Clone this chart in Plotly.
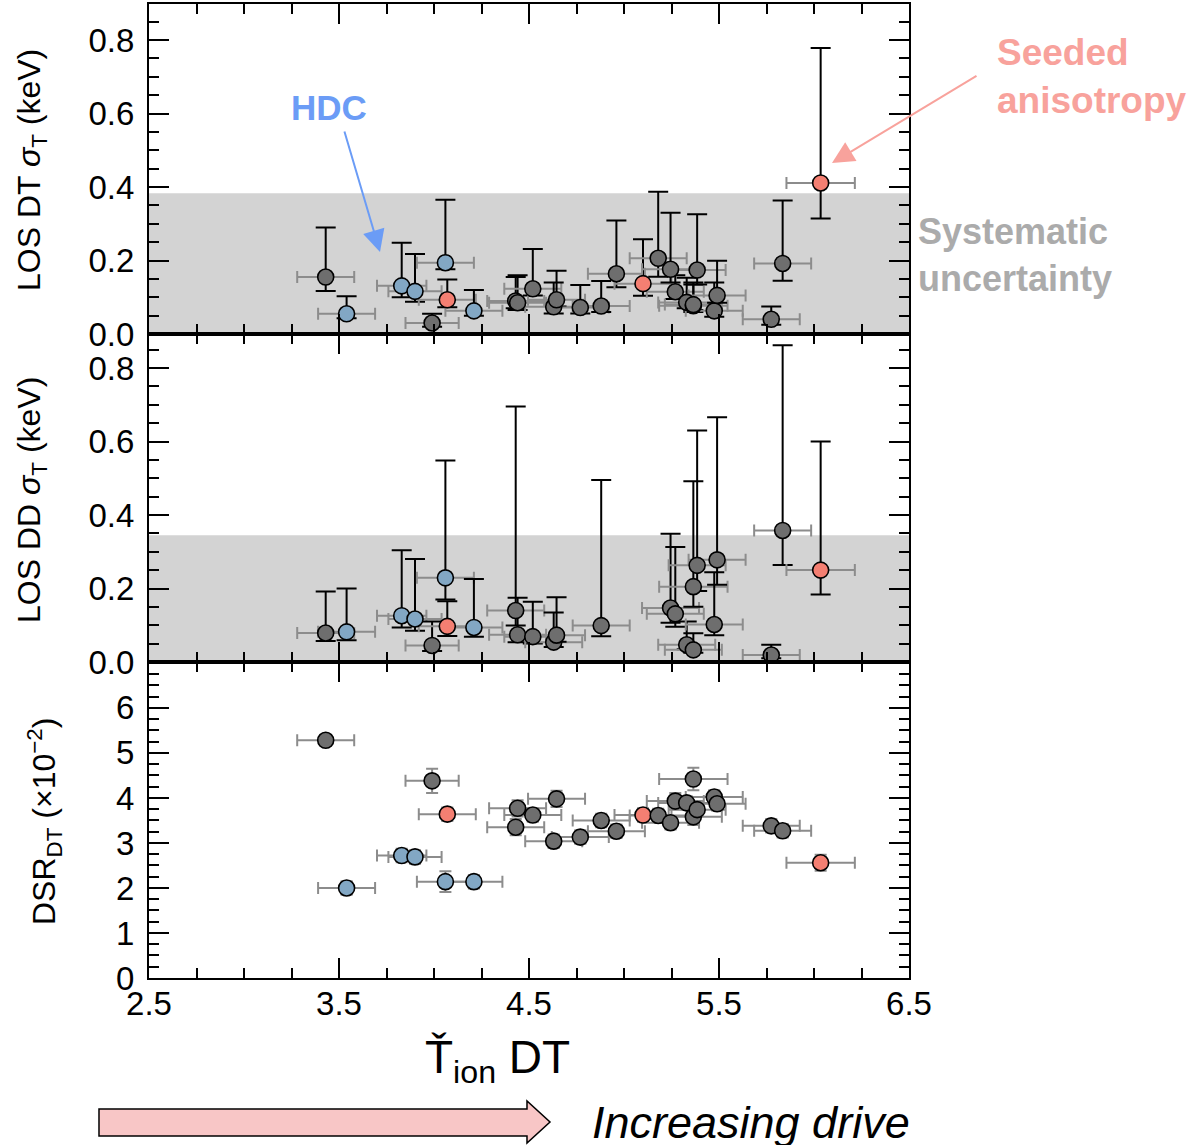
import plotly.graph_objects as go

# ---- measurements per shot ------------------------------------------------
t_ion = [3.43, 3.54, 3.83, 3.90, 3.99, 4.06, 4.07, 4.21, 4.43, 4.44,
         4.52, 4.63, 4.645, 4.77, 4.88, 4.96, 5.10, 5.18, 5.245, 5.27,
         5.33, 5.365, 5.365, 5.385, 5.475, 5.49, 5.775, 5.835, 6.035]
t_ion_err = [0.15, 0.15, 0.13, 0.14, 0.14, 0.15, 0.15, 0.15, 0.15, 0.15,
             0.15, 0.15, 0.15, 0.15, 0.15, 0.15, 0.15, 0.15, 0.15, 0.15,
             0.15, 0.18, 0.15, 0.15, 0.15, 0.15, 0.15, 0.15, 0.18]
shot_class = ["other", "hdc", "hdc", "hdc", "other", "hdc", "seeded", "hdc", "other", "other",
              "other", "other", "other", "other", "other", "other", "seeded", "other", "other", "other",
              "other", "other", "other", "other", "other", "other", "other", "other", "seeded"]

dt_sigma = [0.155, 0.055, 0.131, 0.116, 0.030, 0.194, 0.093, 0.063, 0.090, 0.085,
            0.123, 0.074, 0.093, 0.072, 0.076, 0.164, 0.137, 0.206, 0.176, 0.115,
            0.086, 0.077, 0.080, 0.174, 0.063, 0.105, 0.040, 0.192, 0.411]
dt_sigma_lo = [0.117, 0.043, 0.100, 0.088, 0.020, 0.176, 0.073, 0.050, 0.070, 0.065,
               0.105, 0.056, 0.075, 0.056, 0.060, 0.127, 0.104, 0.156, 0.140, 0.095,
               0.070, 0.060, 0.065, 0.135, 0.047, 0.085, 0.025, 0.145, 0.314]
dt_sigma_hi = [0.290, 0.103, 0.248, 0.218, 0.055, 0.365, 0.148, 0.120, 0.155, 0.160,
               0.231, 0.140, 0.172, 0.133, 0.144, 0.309, 0.258, 0.387, 0.330, 0.160,
               0.153, 0.140, 0.135, 0.326, 0.140, 0.199, 0.075, 0.363, 0.778]

dd_sigma = [0.079, 0.082, 0.126, 0.117, 0.045, 0.229, 0.097, 0.094, 0.140, 0.074,
            0.069, 0.054, 0.073, None, 0.099, None, None, None, 0.147, 0.131,
            0.047, 0.205, 0.033, 0.263, 0.102, 0.278, 0.019, 0.358, 0.250]
dd_sigma_lo = [0.057, 0.059, 0.094, 0.085, 0.030, 0.170, 0.071, 0.069, 0.099, 0.054,
               0.050, 0.041, 0.055, None, 0.070, None, None, None, 0.107, 0.096,
               0.035, 0.150, 0.025, 0.193, 0.073, 0.210, 0.010, 0.264, 0.184]
dd_sigma_hi = [0.192, 0.200, 0.304, 0.280, 0.110, 0.548, 0.165, 0.226, 0.695, 0.175,
               0.164, 0.135, 0.176, None, 0.495, None, None, None, 0.349, 0.313,
               0.110, 0.492, 0.078, 0.630, 0.244, 0.666, 0.047, 0.862, 0.600]

dsr = [5.28, 2.00, 2.72, 2.69, 4.38, 2.14, 3.64, 2.14, 3.35, 3.77,
       3.62, 3.04, 3.98, 3.13, 3.50, 3.26, 3.62, 3.61, 3.45, 3.93,
       3.89, 4.42, 3.58, 3.74, 4.02, 3.87, 3.38, 3.27, 2.56]
dsr_err = [0.12, 0.15, 0.15, 0.15, 0.27, 0.23, 0.15, 0.15, 0.18, 0.18,
           0.15, 0.15, 0.18, 0.15, 0.15, 0.15, 0.15, 0.15, 0.15, 0.18,
           0.15, 0.25, 0.18, 0.15, 0.15, 0.15, 0.15, 0.15, 0.18]

x_ticks = [2.5, 3.5, 4.5, 5.5, 6.5]
sigma_ticks = [0.0, 0.2, 0.4, 0.6, 0.8]
dsr_ticks = [0, 1, 2, 3, 4, 5, 6]
dt_systematic = 0.383
dd_systematic = 0.345

class_colors = {"other": "#6e6e6e", "hdc": "#82a7c4", "seeded": "#f47f72"}

W, H = 1192, 1145
FONT = "Liberation Sans, Arial, sans-serif"


def px(x):
    return x / W


def py(y):
    return 1 - y / H


def panel(x, xe, y, lo, hi, cls, xa, ya, ecolor, ewidth):
    keep = [i for i in range(len(y)) if y[i] is not None]
    xs = [x[i] for i in keep]
    ys = [y[i] for i in keep]
    err = dict(type="data", color=ecolor, thickness=2, width=ewidth)
    if hi is None:
        err.update(array=[lo[i] for i in keep])
    else:
        err.update(symmetric=False,
                   array=[hi[i] - y[i] for i in keep],
                   arrayminus=[y[i] - lo[i] for i in keep])
    return go.Scatter(
        x=xs, y=ys, mode="markers", xaxis=xa, yaxis=ya, showlegend=False,
        hoverinfo="skip",
        marker=dict(size=16, color=[class_colors[cls[i]] for i in keep],
                    line=dict(color="black", width=1.6)),
        error_x=dict(type="data", array=[xe[i] for i in keep], color="#8c8c8c",
                     thickness=2, width=6),
        error_y=err,
    )


fig = go.Figure()
fig.add_trace(panel(t_ion, t_ion_err, dt_sigma, dt_sigma_lo, dt_sigma_hi,
                    shot_class, "x", "y", "black", 10))
fig.add_trace(panel(t_ion, t_ion_err, dd_sigma, dd_sigma_lo, dd_sigma_hi,
                    shot_class, "x2", "y2", "black", 10))
fig.add_trace(panel(t_ion, t_ion_err, dsr, dsr_err, None,
                    shot_class, "x3", "y3", "#8c8c8c", 6))

x_dom = [px(149), px(909)]
dom_top = [py(334), py(4)]
dom_mid = [py(662), py(334)]
dom_bot = [py(978), py(662)]

common = dict(ticks="inside", ticklen=20, tickwidth=2, tickcolor="black",
              showline=True, linewidth=2, linecolor="black", mirror="ticks",
              showgrid=False, zeroline=False, automargin=False,
              tickfont=dict(family=FONT, size=33, color="black"))


def xaxis(anchor, labels):
    return dict(common, domain=x_dom, anchor=anchor, range=[2.5, 6.5],
                tickmode="array", tickvals=x_ticks, showticklabels=labels,
                ticklabelstandoff=-5,
                minor=dict(ticks="inside", ticklen=10, tickwidth=2,
                           tickcolor="black", dtick=0.25, tick0=2.5))


def yaxis(anchor, dom, rng, vals, fmt, mdt):
    return dict(common, domain=dom, anchor=anchor, range=rng,
                tickmode="array", tickvals=vals, tickformat=fmt,
                ticklabelstandoff=6,
                minor=dict(ticks="inside", ticklen=10, tickwidth=2,
                           tickcolor="black", dtick=mdt, tick0=0))


fig.update_layout(
    width=W, height=H, margin=dict(l=0, r=0, t=0, b=0, autoexpand=False),
    paper_bgcolor="white", plot_bgcolor="white",
    font=dict(family=FONT, color="black"),
    xaxis=xaxis("y", False),
    xaxis2=xaxis("y2", False),
    xaxis3=xaxis("y3", True),
    yaxis=yaxis("x", dom_top, [0, 0.898], sigma_ticks, ".1f", 0.05),
    yaxis2=yaxis("x2", dom_mid, [0, 0.8925], sigma_ticks, ".1f", 0.05),
    yaxis3=yaxis("x3", dom_bot, [0, 7.02], dsr_ticks, "d", 0.25),
)

# systematic-uncertainty bands
for xr, yr, top in [("x domain", "y", dt_systematic), ("x2 domain", "y2", dd_systematic)]:
    fig.add_shape(type="rect", xref=xr, yref=yr, x0=0, x1=1, y0=0, y1=top,
                  fillcolor="#d3d3d3", line=dict(width=0), layer="below")

# axis titles
titles = [
    ("LOS DT <i>σ</i><sub>T</sub> (keV)", 31, 170),
    ("LOS DD <i>σ</i><sub>T</sub> (keV)", 31, 500),
    ("DSR<sub>DT</sub> (×10<sup>−2</sup>)", 44, 822),
]
for text, cx, cy in titles:
    fig.add_annotation(text=text, xref="paper", yref="paper", x=px(cx), y=py(cy),
                       xanchor="center", yanchor="middle", textangle=-90,
                       showarrow=False, font=dict(family=FONT, size=32, color="black"))

fig.add_annotation(text="Ť<sub>ion</sub> DT", xref="paper", yref="paper",
                   x=px(497), y=py(1060), xanchor="center", yanchor="middle",
                   showarrow=False, font=dict(family=FONT, size=46, color="black"))

fig.add_annotation(text="<i>Increasing drive</i>", xref="paper", yref="paper",
                   x=px(590), y=py(1122), xanchor="left", yanchor="middle",
                   showarrow=False, font=dict(family=FONT, size=45, color="black"))

# drive arrow
pts = [(99, 1109), (527, 1109), (527, 1101), (550, 1122), (527, 1143),
       (527, 1136), (99, 1136)]
path = "M " + " L ".join(f"{px(a):.5f},{py(b):.5f}" for a, b in pts) + " Z"
fig.add_shape(type="path", xref="paper", yref="paper", path=path,
              fillcolor="#f8c6c6", line=dict(color="black", width=1.5))

# callouts
fig.add_annotation(text="<b>HDC</b>", xref="paper", yref="paper",
                   x=px(329), y=py(108), xanchor="center", yanchor="middle",
                   showarrow=False, font=dict(family=FONT, size=35, color="#6b9cf6"))
fig.add_annotation(text="", xref="paper", yref="paper", x=px(380), y=py(252),
                   ax=-36, ay=-122, showarrow=True, arrowhead=2, arrowsize=2.2,
                   arrowwidth=2, arrowcolor="#6b9cf6")

fig.add_annotation(text="<b>Seeded<br>anisotropy</b>", xref="paper", yref="paper",
                   x=px(995), y=py(76), xanchor="left", yanchor="middle", align="left",
                   showarrow=False, font=dict(family=FONT, size=37, color="#f8a29c"))
fig.add_annotation(text="", xref="paper", yref="paper", x=px(832), y=py(163),
                   ax=146, ay=-88, showarrow=True, arrowhead=2, arrowsize=2.2,
                   arrowwidth=2, arrowcolor="#f8a29c")

fig.add_annotation(text="<b>Systematic<br>uncertainty</b>", xref="paper", yref="paper",
                   x=px(916), y=py(255), xanchor="left", yanchor="middle", align="left",
                   showarrow=False, font=dict(family=FONT, size=36, color="#ababab"))

fig.write_html("out.html")
